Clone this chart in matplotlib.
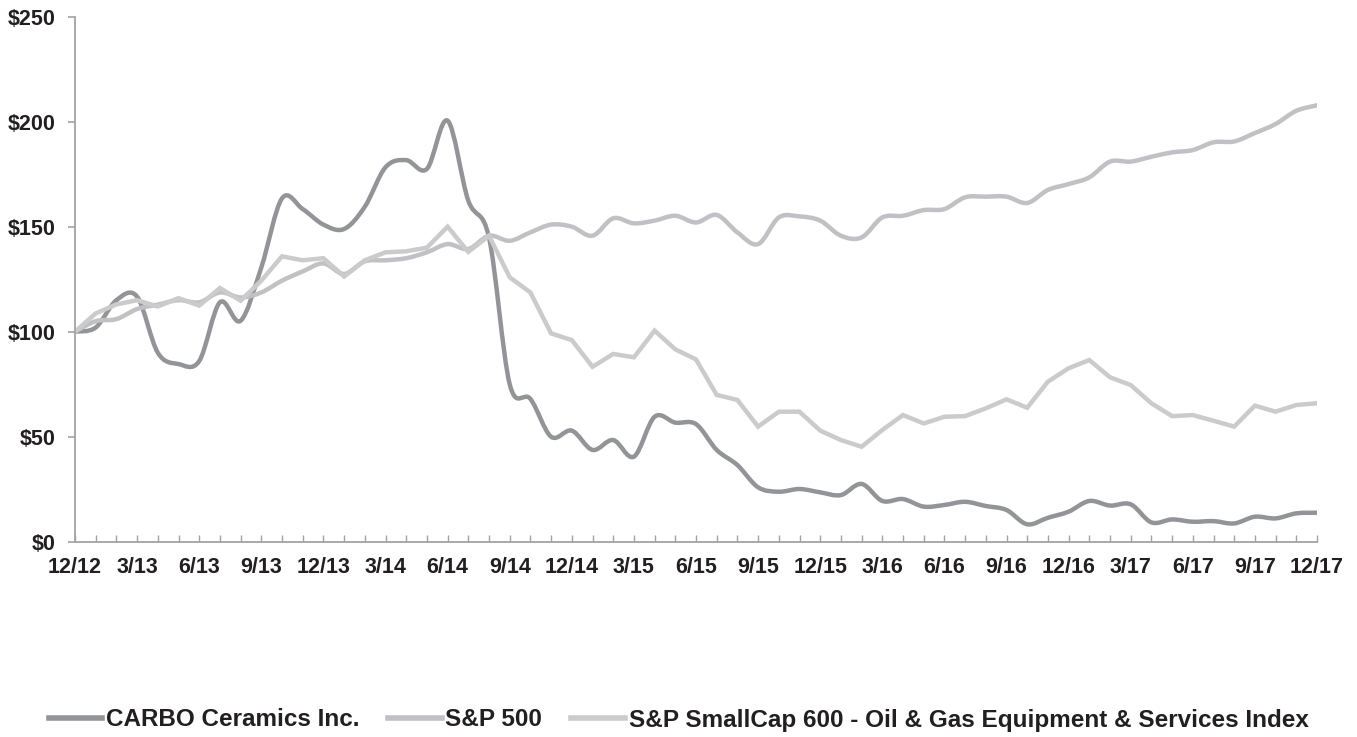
import matplotlib
matplotlib.use("Agg")
import matplotlib.pyplot as plt
from matplotlib.path import Path
from matplotlib.patches import PathPatch
from matplotlib.lines import Line2D
from matplotlib.ticker import MultipleLocator, FixedLocator

plt.rcParams['font.family'] = ['Liberation Sans', 'DejaVu Sans']
plt.rcParams['font.weight'] = 'bold'

tick_labels = ['12/12', '3/13', '6/13', '9/13', '12/13', '3/14', '6/14', '9/14',
               '12/14', '3/15', '6/15', '9/15', '12/15', '3/16', '6/16', '9/16',
               '12/16', '3/17', '6/17', '9/17', '12/17']

carbo = [100, 102, 115, 116.7, 90, 84.6, 86, 114, 105.2, 130.6,
         163.5, 158.4, 151, 148.9, 159.5, 178.3, 181.7, 177.5, 200.5, 162.4,
         144.9, 75, 68, 50, 52.9, 43.7, 48.4, 40.5, 59.5, 56.7,
         56.0, 43.7, 36.5, 25.9, 23.8, 25.1, 23.5, 22.2, 27.5, 19.4,
         20.3, 16.7, 17.5, 19.0, 17.0, 15.1, 8.3, 11.4, 14.3, 19.4,
         17.2, 17.8, 9.2, 10.6, 9.5, 9.8, 8.7, 11.9, 11.1, 13.5, 13.8]

sp500 = [100, 105, 106, 110.8, 112.9, 115, 114, 118.7, 116.3, 118.7,
         124.3, 128.7, 132.5, 127.5, 133.5, 134, 135, 137.8, 141.7, 139.4,
         145.7, 143.3, 147.3, 151, 150, 145.7, 154, 151.6, 152.9, 155.2,
         152, 155.6, 147.3, 141.7, 154.4, 154.9, 152.9, 145.7, 144.9, 154.4,
         155.2, 157.9, 158.4, 164, 164.3, 164.3, 161.3, 167.5, 170.3, 173.5,
         181, 181, 183.3, 185.4, 186.5, 190.2, 190.6, 194.6, 198.9, 205.2, 207.8]

smallcap = [100, 108.7, 113, 115, 112, 116, 112.4, 120.8, 114.8, 124.3,
            135.9, 134, 135, 126.3, 134, 137.8, 138.3, 140, 150, 138,
            145.7, 125.9, 118.7, 99.2, 96, 83.3, 89.4, 87.8, 100.5, 91.6,
            86.8, 69.9, 67.5, 54.8, 61.9, 61.9, 52.9, 48.4, 45.2, 53.2,
            60.3, 56.3, 59.5, 59.8, 63.5, 67.8, 63.8, 76.2, 82.6, 86.5,
            78.3, 74.6, 65.9, 59.8, 60.3, 57.6, 54.8, 64.8, 61.9, 65.1, 65.9]

names = ['CARBO Ceramics Inc.', 'S&P 500',
         'S&P SmallCap 600 - Oil & Gas Equipment & Services Index']
colors = ['#939498', '#c1c1c5', '#cbcbcc']

fig = plt.figure(figsize=(13.57, 7.37), dpi=100)
ax = fig.add_axes([75 / 1357, 1 - 541.7 / 737, (1317 - 75) / 1357, 525 / 737])


def smooth_path(xs, ys):
    """Cubic Bezier path through the points (Excel-style smoothed line)."""
    n = len(xs)
    verts = [(xs[0], ys[0])]
    codes = [Path.MOVETO]
    for i in range(n - 1):
        x0, y0 = (xs[i - 1], ys[i - 1]) if i > 0 else (xs[i], ys[i])
        x1, y1 = xs[i], ys[i]
        x2, y2 = xs[i + 1], ys[i + 1]
        x3, y3 = (xs[i + 2], ys[i + 2]) if i + 2 < n else (x2, y2)
        c1 = (x1 + (x2 - x0) / 6.0, y1 + (y2 - y0) / 6.0)
        c2 = (x2 - (x3 - x1) / 6.0, y2 - (y3 - y1) / 6.0)
        verts += [c1, c2, (x2, y2)]
        codes += [Path.CURVE4] * 3
    return Path(verts, codes)


xs = list(range(len(carbo)))
lw = 3.2
for series, col in [(carbo, colors[0]), (sp500, colors[1])]:
    patch = PathPatch(smooth_path(xs, series), fill=False, edgecolor=col,
                      linewidth=lw, capstyle='round', joinstyle='round')
    ax.add_patch(patch)
ax.plot(xs, smallcap, color=colors[2], linewidth=lw,
        solid_joinstyle='miter', solid_capstyle='round')

ax.set_xlim(0, len(carbo) - 1)
ax.set_ylim(0, 250)

spine_col = '#a3a3a6'
for s in ['top', 'right']:
    ax.spines[s].set_visible(False)
for s in ['left', 'bottom']:
    ax.spines[s].set_color(spine_col)
    ax.spines[s].set_linewidth(1.3)

ax.yaxis.set_major_locator(MultipleLocator(50))
ax.set_yticklabels([f'${int(v)}' for v in ax.get_yticks()])
ax.tick_params(axis='y', direction='out', length=5, width=1.2, color=spine_col,
               pad=9, labelsize=15.5, labelcolor='#231f20')

ax.xaxis.set_major_locator(FixedLocator(list(range(0, len(carbo), 3))))
ax.set_xticklabels(tick_labels)
ax.xaxis.set_minor_locator(MultipleLocator(1))
ax.tick_params(axis='x', which='both', direction='in', length=5, width=1.0,
               color=spine_col, pad=11, labelsize=15.5, labelcolor='#231f20')
for lab in ax.get_xticklabels() + ax.get_yticklabels():
    lab.set_fontweight('bold')

handles = [Line2D([], [], color=c, linewidth=4) for c in colors]
fig.legend(handles, names, loc='center', bbox_to_anchor=(0.5, 1 - 720 / 737),
           ncol=3, frameon=False, handlelength=2.2,
           handletextpad=0.15, columnspacing=1.2,
           prop={'weight': 'bold', 'size': 17.5})
for t in fig.legends[0].get_texts():
    t.set_color('#231f20')

fig.savefig('out.png', dpi=100)
